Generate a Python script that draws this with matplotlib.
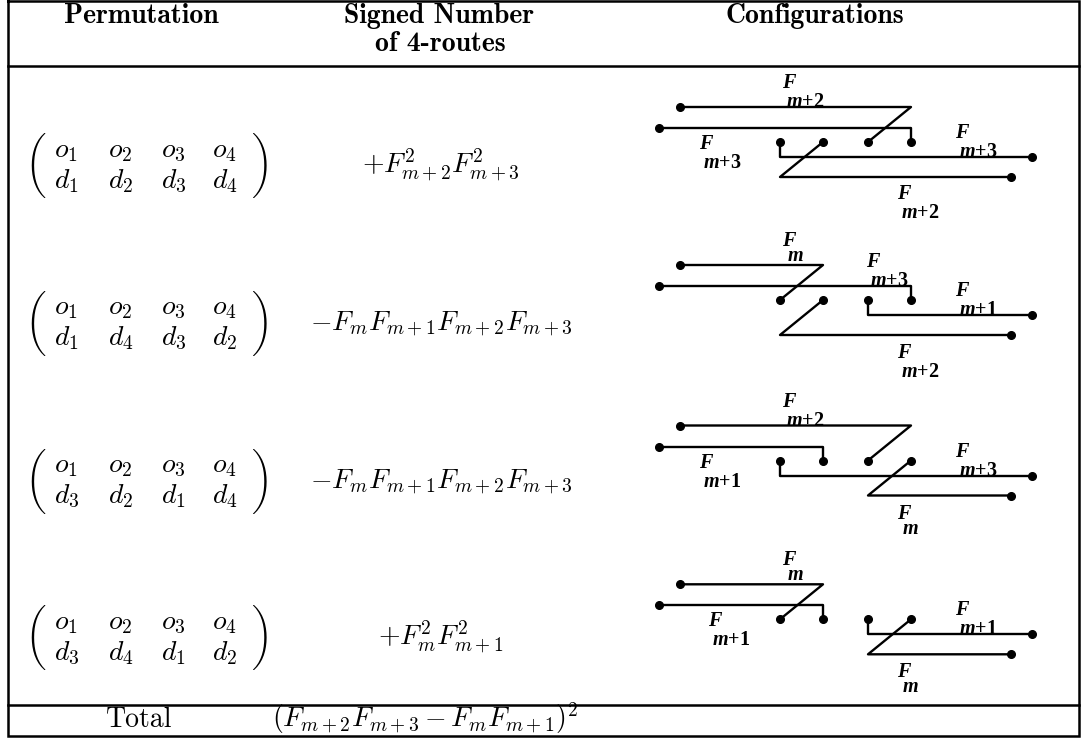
import os
import matplotlib
import matplotlib.pyplot as plt
from matplotlib.font_manager import FontProperties

plt.rcParams['mathtext.fontset'] = 'cm'
plt.rcParams['mathtext.it'] = 'Liberation Serif:italic:bold'
plt.rcParams['mathtext.rm'] = 'Liberation Serif:bold'
plt.rcParams['mathtext.bf'] = 'Liberation Serif:bold'

ttf_dir = os.path.join(matplotlib.get_data_path(), 'fonts', 'ttf')
cm_bold = FontProperties(fname=os.path.join(ttf_dir, 'cmb10.ttf'), size=20)
cm_roman = FontProperties(fname=os.path.join(ttf_dir, 'cmr10.ttf'), size=20)
cm_ex = FontProperties(fname=os.path.join(ttf_dir, 'cmex10.ttf'), size=20)

# ---- table content ----
headers = ['Permutation', 'Signed Number', 'of 4-routes', 'Configurations']
perm_top = ['o_1', 'o_2', 'o_3', 'o_4']
perm_bottom = [['d_1', 'd_2', 'd_3', 'd_4'],
               ['d_1', 'd_4', 'd_3', 'd_2'],
               ['d_3', 'd_2', 'd_1', 'd_4'],
               ['d_3', 'd_4', 'd_1', 'd_2']]
signed = [r'+F_{m+2}^2F_{m+3}^2',
          r'-F_mF_{m+1}F_{m+2}F_{m+3}',
          r'-F_mF_{m+1}F_{m+2}F_{m+3}',
          r'+F_m^2F_{m+1}^2']
total_label = 'Total'
total_expr = r'(F_{m+2}F_{m+3}-F_mF_{m+1})^2'

# configurations: which middle dot column each path uses
top_path = [(3, 2), (1, 0), (3, 2), (1, 0)]      # (turn column, end dot column)
second_path = [3, 3, 1, 1]
third_path = [0, 2, 0, 2]
fourth_path = [(1, 0), (1, 0), (3, 2), (3, 2)]   # (start dot column, turn column)
# subscripts of the F labels (top, left/middle, right, bottom)
config_subs = [['m+2', 'm+3', 'm+3', 'm+2'],
               ['m', 'm+3', 'm+1', 'm+2'],
               ['m+2', 'm+1', 'm+3', 'm'],
               ['m', 'm+1', 'm+1', 'm']]

# ---- layout (pixels) ----
row_mid = [166, 323, 481, 638]
row_top = [107, 265, 425.5, 584.3]
col_x = [780, 823, 868, 911]
entry_x = [54, 108, 161, 212]
top_start, second_start = 680, 659
third_end, fourth_end = 1032, 1011
# left edge and top of each F label, relative to the row's top line
label_pos = [[(782, -34), (699, 27), (955, 16), (897, 77)],
             [(782, -34), (866, -13), (955, 16), (897, 78)],
             [(782, -34), (699, 27), (955, 16), (897, 78)],
             [(782, -34), (708, 27), (955, 16), (897, 78)]]


def f_label(sub):
    # F stacked over its subscript, the subscript sitting a bit to the right
    pad = r'\quad\quad' if '+' in sub else r'\;\;\;'
    return r'$\genfrac{}{}{0}{0}{F%s}{%s}$' % (pad, sub.replace('+', '{+}'))


fig = plt.figure(figsize=(10.81, 7.41), dpi=100)
ax = fig.add_axes([0, 0, 1, 1])
ax.set_xlim(0, 1081)
ax.set_ylim(741, 0)
ax.axis('off')

# table frame
L, R, T, B = 8, 1078.5, 1.3, 736
ax.plot([L, R, R, L, L], [T, T, B, B, T], color='black', lw=1.8, solid_joinstyle='miter')
ax.plot([L, R], [65.5, 65.5], color='black', lw=1.8)
ax.plot([L, R], [705, 705], color='black', lw=1.8)

# headers
ax.text(141, 23, headers[0], fontproperties=cm_bold, ha='center', va='baseline')
ax.text(439, 23, headers[1], fontproperties=cm_bold, ha='center', va='baseline')
ax.text(440, 51, headers[2], fontproperties=cm_bold, ha='center', va='baseline')
ax.text(815, 23, headers[3], fontproperties=cm_bold, ha='center', va='baseline')

for i in range(4):
    mid = row_mid[i]
    # permutation matrix
    ax.text(35, mid, '\xb5', fontproperties=cm_ex, ha='center', va='center')
    ax.text(261, mid, '\xb6', fontproperties=cm_ex, ha='center', va='center')
    for x, o, d in zip(entry_x, perm_top, perm_bottom[i]):
        ax.text(x, mid - 9, '$' + o + '$', fontsize=20, ha='left', va='baseline', math_fontfamily='cm')
        ax.text(x, mid + 22, '$' + d + '$', fontsize=20, ha='left', va='baseline', math_fontfamily='cm')
    ax.text(441, mid + 8, '$' + signed[i] + '$', fontsize=20, ha='center', va='baseline',
            math_fontfamily='cm')

    y0 = row_top[i]
    y_second, y_dot, y_third, y_fourth = y0 + 21, y0 + 35, y0 + 50, y0 + 70

    # first path: across, then slant down to a middle dot
    a, b = top_path[i]
    ax.plot([top_start, col_x[a], col_x[b]], [y0, y0, y_dot], color='black', lw=1.7)
    ax.plot([top_start, col_x[b]], [y0, y_dot], 'o', color='black', ms=5.5)
    # second path: across, then straight down
    c = second_path[i]
    ax.plot([second_start, col_x[c], col_x[c]], [y_second, y_second, y_dot], color='black', lw=1.7)
    ax.plot([second_start, col_x[c]], [y_second, y_dot], 'o', color='black', ms=5.5)
    # third path: down from a dot, then across
    c = third_path[i]
    ax.plot([col_x[c], col_x[c], third_end], [y_dot, y_third, y_third], color='black', lw=1.7)
    ax.plot([col_x[c], third_end], [y_dot, y_third], 'o', color='black', ms=5.5)
    # fourth path: slant down from a dot, then across
    a, b = fourth_path[i]
    ax.plot([col_x[a], col_x[b], fourth_end], [y_dot, y_fourth, y_fourth], color='black', lw=1.7)
    ax.plot([col_x[a], fourth_end], [y_dot, y_fourth], 'o', color='black', ms=5.5)

    for sub, (fx, dy) in zip(config_subs[i], label_pos[i]):
        ax.text(fx, y0 + dy, f_label(sub), fontsize=14.5, ha='left', va='top',
                math_fontfamily='custom')

ax.text(139, 727, total_label, fontproperties=cm_roman, ha='center', va='baseline')
ax.text(425, 727, '$' + total_expr + '$', fontsize=20, ha='center', va='baseline', math_fontfamily='cm')

fig.savefig('out.png', dpi=100)
